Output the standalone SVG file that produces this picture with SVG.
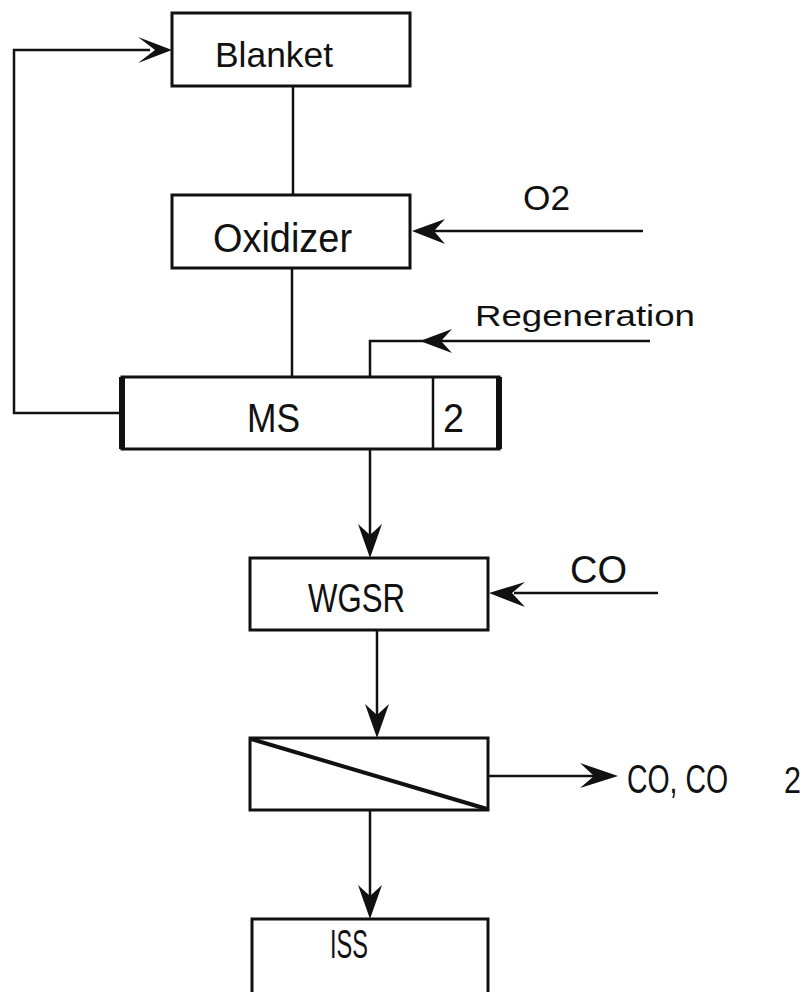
<svg xmlns="http://www.w3.org/2000/svg" width="806" height="992" viewBox="0 0 806 992">
<style>
.box{fill:#fff;stroke:#111;stroke-width:3}
.ln{fill:none;stroke:#111;stroke-width:2.5}
.ah{fill:#111;stroke:none}
.t{font-family:"Liberation Sans",Arial,sans-serif;fill:#111}
</style>
<rect width="806" height="992" fill="#fff"/>
<g id="connectors">
<polyline class="ln" points="123,413 14,413 14,50 150,50"/>
<path class="ah" d="M172,50 L138,37 L155,50 L138,63 Z"/>
<line class="ln" x1="293" y1="86" x2="293" y2="195"/>
<line class="ln" x1="434" y1="231" x2="643" y2="231"/>
<path class="ah" d="M412,231 L445,219 L434,231 L445,244 Z"/>
<line class="ln" x1="292" y1="268" x2="292" y2="377"/>
<polyline class="ln" points="650,341 370,341 370,377"/>
<path class="ah" d="M420,341 L452,329 L441,341 L452,353 Z"/>
<line class="ln" x1="370" y1="449" x2="370" y2="540"/>
<path class="ah" d="M370,558 L358,524 L370,535 L382,524 Z"/>
<line class="ln" x1="514" y1="593" x2="658" y2="593"/>
<path class="ah" d="M489,593 L525,582 L512,593 L525,607 Z"/>
<line class="ln" x1="377" y1="630" x2="377" y2="720"/>
<path class="ah" d="M377,738 L365,704 L377,715 L389,704 Z"/>
<line class="ln" x1="488" y1="776" x2="598" y2="776"/>
<path class="ah" d="M618,776 L580,763 L594,776 L580,788 Z"/>
<line class="ln" x1="370" y1="810" x2="370" y2="900"/>
<path class="ah" d="M370,919 L358,885 L370,896 L382,885 Z"/>
</g>
<g id="blanket">
<rect class="box" x="172" y="13" width="238" height="73"/>
<text class="t" x="215" y="67" font-size="35" textLength="118" lengthAdjust="spacingAndGlyphs">Blanket</text>
</g>
<g id="oxidizer">
<rect class="box" x="172" y="195" width="238" height="73"/>
<text class="t" x="213" y="252" font-size="40" textLength="139" lengthAdjust="spacingAndGlyphs">Oxidizer</text>
</g>
<g id="o2">
<text class="t" x="523" y="210" font-size="35" textLength="47" lengthAdjust="spacingAndGlyphs">O2</text>
</g>
<g id="regeneration">
<text class="t" x="475" y="326" font-size="30" textLength="220" lengthAdjust="spacingAndGlyphs">Regeneration</text>
</g>
<g id="ms">
<rect class="box" x="122" y="377" width="377" height="72"/>
<line x1="122" y1="377" x2="122" y2="449" stroke="#111" stroke-width="6"/>
<line x1="499" y1="377" x2="499" y2="449" stroke="#111" stroke-width="6"/>
<line x1="433" y1="377" x2="433" y2="449" stroke="#111" stroke-width="2.5"/>
<text class="t" x="247" y="432" font-size="40" textLength="53" lengthAdjust="spacingAndGlyphs">MS</text>
<text class="t" x="443" y="432" font-size="40" textLength="21" lengthAdjust="spacingAndGlyphs">2</text>
</g>
<g id="wgsr">
<rect class="box" x="250" y="558" width="238" height="72"/>
<text class="t" x="308" y="612" font-size="40" textLength="97" lengthAdjust="spacingAndGlyphs">WGSR</text>
</g>
<g id="co">
<text class="t" x="570" y="583" font-size="38" textLength="57" lengthAdjust="spacingAndGlyphs">CO</text>
</g>
<g id="separator">
<rect class="box" x="250" y="738" width="238" height="72"/>
<line x1="251" y1="739" x2="487" y2="809" stroke="#111" stroke-width="4"/>
</g>
<g id="co-co2">
<text class="t" x="627" y="793" font-size="40" textLength="101" lengthAdjust="spacingAndGlyphs">CO, CO</text>
<text class="t" x="784" y="793" font-size="36" textLength="17" lengthAdjust="spacingAndGlyphs">2</text>
</g>
<g id="iss">
<rect class="box" x="252" y="919" width="236" height="90"/>
<text class="t" x="330" y="958" font-size="40" textLength="38" lengthAdjust="spacingAndGlyphs">ISS</text>
</g>
</svg>
